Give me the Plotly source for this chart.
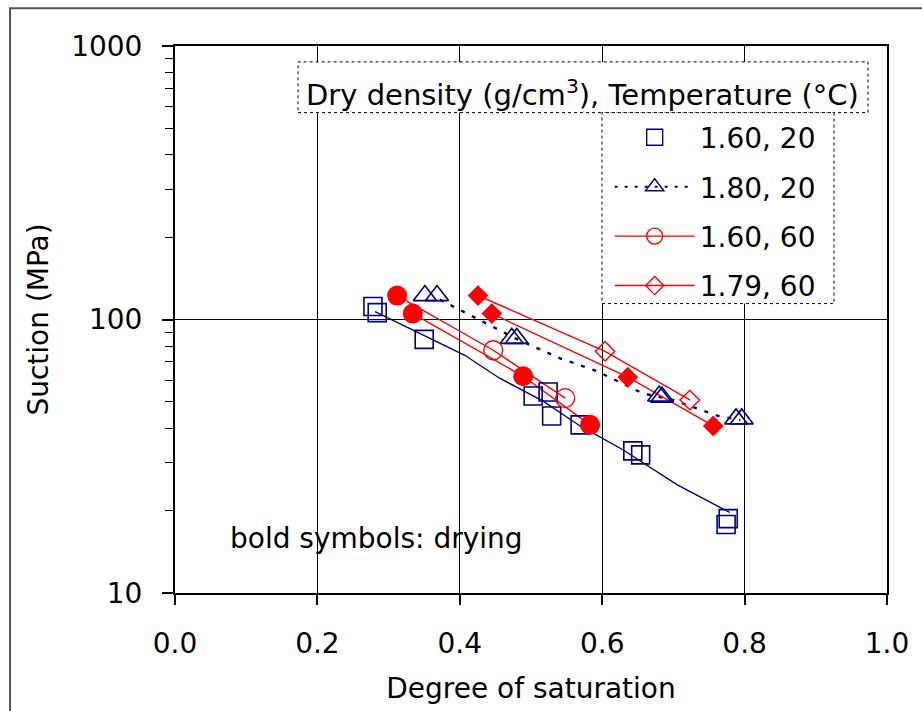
import plotly.graph_objects as go

# ---------------- data ----------------
# 1.60 g/cm3, 20 C : open squares + fitted solid line
sq_x = [0.278, 0.284, 0.350, 0.503, 0.524, 0.529, 0.569, 0.643, 0.654, 0.777, 0.774]
sq_y = [111.5, 106.0, 84.6, 52.5, 54.3, 44.4, 41.2, 33.1, 32.0, 18.7, 17.8]
sq_fit_x = [0.281, 0.407, 0.456, 0.517, 0.569, 0.629, 0.705, 0.779]
sq_fit_y = [106.9, 74.0, 61.0, 50.3, 40.8, 33.4, 24.9, 19.7]

# 1.80 g/cm3, 20 C : open triangles + dotted fitted line
tri_x = [0.351, 0.368, 0.473, 0.480, 0.680, 0.684, 0.788, 0.796]
tri_y = [122.3, 122.3, 85.3, 85.3, 52.5, 52.0, 43.3, 43.3]
tri_fit_x = [0.372, 0.428, 0.478, 0.541, 0.593, 0.656, 0.699, 0.763, 0.794]
tri_fit_y = [118.2, 99.2, 85.3, 72.1, 64.7, 53.8, 50.8, 44.4, 42.9]

# 1.60 g/cm3, 60 C : circles (filled = drying, open = wetting)
circ_dry_x = [0.312, 0.334, 0.489, 0.583]
circ_dry_y = [122.3, 105.1, 62.0, 41.2]
circ_wet_x = [0.447, 0.548]
circ_wet_y = [77.2, 51.6]

# 1.79 g/cm3, 60 C : diamonds (filled = drying, open = wetting)
dia_dry_x = [0.4256, 0.445, 0.636, 0.756]
dia_dry_y = [122.3, 105.1, 61.5, 40.8]
dia_wet_x = [0.604, 0.723]
dia_wet_y = [76.5, 50.8]

series_names = ["1.60, 20", "1.80, 20", "1.60, 60", "1.79, 60"]

x_ticks = [0.0, 0.2, 0.4, 0.6, 0.8, 1.0]
y_ticks = [10, 100, 1000]
y_tick_text = ["10", "100", "1000"]
y_minor = [20, 30, 40, 50, 60, 70, 80, 90, 200, 300, 400, 500, 600, 700, 800, 900]

NAVY = "#000080"
RED = "#FF0000"
FONT = "DejaVu Sans"

fig = go.Figure()

# ---- lines ----
fig.add_trace(go.Scatter(x=sq_fit_x, y=sq_fit_y, mode="lines",
                         line=dict(color=NAVY, width=1.4), showlegend=False, hoverinfo="skip"))
fig.add_trace(go.Scatter(x=tri_fit_x, y=tri_fit_y, mode="lines",
                         line=dict(color=NAVY, width=2.4, dash="4px,8px"), showlegend=False, hoverinfo="skip"))
# 60 C lines: upper line joins first drying point to wetting points, lower joins remaining drying points
fig.add_trace(go.Scatter(x=[circ_dry_x[0]] + circ_wet_x, y=[circ_dry_y[0]] + circ_wet_y, mode="lines",
                         line=dict(color=RED, width=1.4), showlegend=False, hoverinfo="skip"))
fig.add_trace(go.Scatter(x=circ_dry_x[1:], y=circ_dry_y[1:], mode="lines",
                         line=dict(color=RED, width=1.4), showlegend=False, hoverinfo="skip"))
fig.add_trace(go.Scatter(x=[dia_dry_x[0]] + dia_wet_x, y=[dia_dry_y[0]] + dia_wet_y, mode="lines",
                         line=dict(color=RED, width=1.4), showlegend=False, hoverinfo="skip"))
fig.add_trace(go.Scatter(x=dia_dry_x[1:], y=dia_dry_y[1:], mode="lines",
                         line=dict(color=RED, width=1.4), showlegend=False, hoverinfo="skip"))

# ---- markers ----
fig.add_trace(go.Scatter(x=sq_x, y=sq_y, mode="markers", showlegend=False,
                         marker=dict(symbol="square-open", size=18, color=NAVY, line=dict(width=1.6, color=NAVY))))
fig.add_trace(go.Scatter(x=tri_x, y=tri_y, mode="markers", showlegend=False,
                         marker=dict(symbol="triangle-up-open", size=20, color=NAVY, line=dict(width=1.6, color=NAVY))))
fig.add_trace(go.Scatter(x=circ_wet_x, y=circ_wet_y, mode="markers", showlegend=False,
                         marker=dict(symbol="circle-open", size=19, color=RED, line=dict(width=1.4, color=RED))))
fig.add_trace(go.Scatter(x=circ_dry_x, y=circ_dry_y, mode="markers", showlegend=False,
                         marker=dict(symbol="circle", size=20, color=RED, line=dict(width=0))))
fig.add_trace(go.Scatter(x=dia_wet_x, y=dia_wet_y, mode="markers", showlegend=False,
                         marker=dict(symbol="diamond-open", size=15, color=RED, line=dict(width=1.4, color=RED))))
fig.add_trace(go.Scatter(x=dia_dry_x, y=dia_dry_y, mode="markers", showlegend=False,
                         marker=dict(symbol="diamond", size=16, color=RED, line=dict(width=0))))

# ---- legend entries ----
leg_styles = [
    dict(mode="markers", marker=dict(symbol="square-open", size=16, color=NAVY, line=dict(width=1.4, color=NAVY))),
    dict(mode="lines+markers", line=dict(color=NAVY, width=2, dash="3px,7px"),
         marker=dict(symbol="triangle-up-open", size=16, color=NAVY, line=dict(width=1.4, color=NAVY))),
    dict(mode="lines+markers", line=dict(color=RED, width=1.4),
         marker=dict(symbol="circle-open", size=16, color=RED, line=dict(width=1.4, color=RED))),
    dict(mode="lines+markers", line=dict(color=RED, width=1.4),
         marker=dict(symbol="diamond-open", size=14, color=RED, line=dict(width=1.4, color=RED))),
]
for name, st in zip(series_names, leg_styles):
    fig.add_trace(go.Scatter(x=[None], y=[None], name=name, legendgroup=name, showlegend=True, **st))

# ---- frames / boxes ----
shapes = [
    # outer frame of the picture
    dict(type="rect", xref="paper", yref="paper", x0=-0.2317, x1=1.07, y0=-0.24, y1=1.069,
         line=dict(color="#555555", width=2), layer="below"),
    # legend title box
    dict(type="rect", xref="paper", yref="paper", x0=0.1728, x1=0.9733, y0=0.8782, y1=0.9709,
         fillcolor="white", line=dict(color="black", width=1, dash="dot"), layer="above"),
    # legend items box
    dict(type="rect", xref="paper", yref="paper", x0=0.5997, x1=0.9256, y0=0.5291, y1=0.8782,
         fillcolor="white", line=dict(color="black", width=1, dash="dot"), layer="above"),
]

annotations = [
    dict(text="Dry density (g/cm<sup>3</sup>), Temperature (°C)", xref="paper", yref="paper",
         x=0.573, y=0.9145, xanchor="center", yanchor="middle", showarrow=False,
         font=dict(family=FONT, size=29, color="black")),
    dict(text="bold symbols: drying", xref="paper", yref="paper",
         x=0.2837, y=0.10, xanchor="center", yanchor="middle", showarrow=False,
         font=dict(family=FONT, size=28, color="black")),
]

fig.update_layout(
    width=922, height=711,
    margin=dict(l=175, r=35, t=46, b=115),
    paper_bgcolor="white", plot_bgcolor="white",
    font=dict(family=FONT, size=28, color="black"),
    shapes=shapes, annotations=annotations,
    legend=dict(x=0.6105, y=0.8782, xanchor="left", yanchor="top",
                bgcolor="rgba(0,0,0,0)", borderwidth=0, itemwidth=80,
                tracegroupgap=10, font=dict(family=FONT, size=28, color="black")),
    showlegend=True,
)

fig.update_xaxes(
    range=[0, 1], tickvals=x_ticks, tickformat=".1f",
    showgrid=True, gridcolor="black", gridwidth=1, zeroline=False,
    showline=True, linecolor="black", linewidth=2, mirror=True,
    ticks="outside", ticklen=10, tickwidth=1.5, tickcolor="black",
    tickfont=dict(family=FONT, size=28, color="black"), ticklabelstandoff=14,
    title=dict(text="Degree of saturation", font=dict(family=FONT, size=28, color="black"), standoff=20),
)
fig.update_yaxes(
    type="log", range=[1, 3], tickvals=y_ticks, ticktext=y_tick_text,
    showgrid=True, gridcolor="black", gridwidth=1, zeroline=False,
    showline=True, linecolor="black", linewidth=2, mirror=True,
    ticks="outside", ticklen=11, tickwidth=1.5, tickcolor="black",
    tickfont=dict(family=FONT, size=28, color="black"), ticklabelstandoff=14,
    minor=dict(tickvals=y_minor, ticks="outside", ticklen=8, tickwidth=1.2, tickcolor="black", showgrid=False),
    title=dict(text="Suction (MPa)", font=dict(family=FONT, size=28, color="black"), standoff=14),
)

fig.write_html("out.html")
